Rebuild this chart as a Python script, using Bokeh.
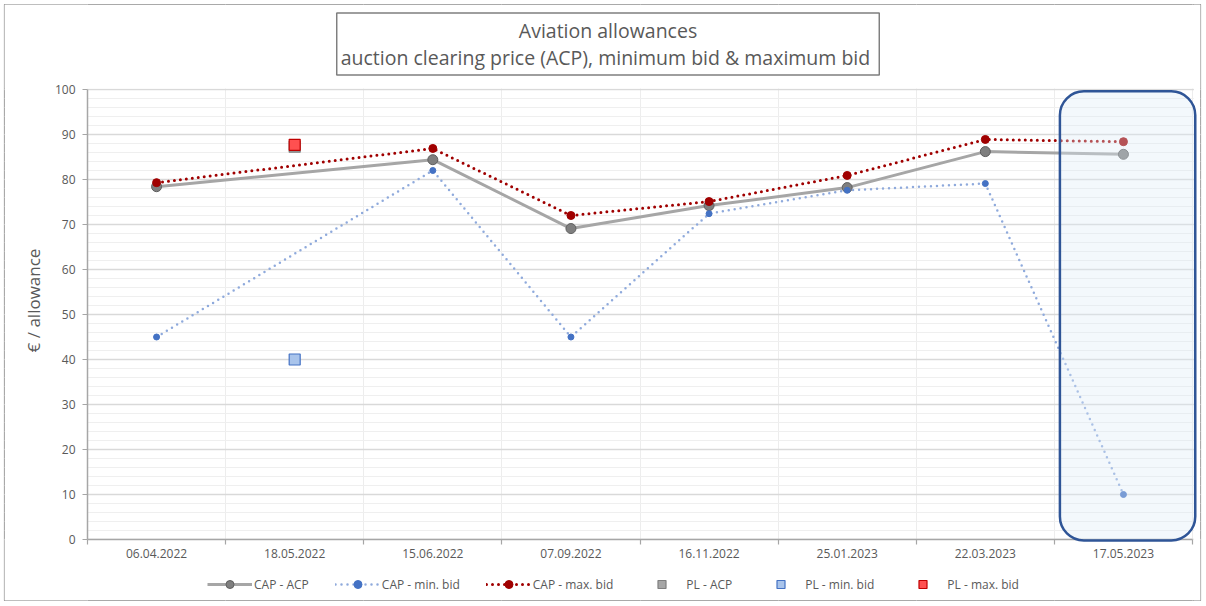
import math
from bokeh.plotting import figure
from bokeh.models import (FixedTicker, BoxAnnotation, Label, Legend, LegendItem)
from bokeh.embed import file_html
from bokeh.resources import INLINE

dates = ["06.04.2022", "18.05.2022", "15.06.2022", "07.09.2022",
         "16.11.2022", "25.01.2023", "22.03.2023", "17.05.2023"]
cap_acp = [78.4, None, 84.4, 69.1, 74.2, 78.2, 86.2, 85.6]
cap_min = [45.0, None, 82.0, 45.0, 72.4, 77.6, 79.1, 10.0]
cap_max = [79.3, None, 86.9, 72.0, 75.1, 80.9, 88.9, 88.4]
pl_acp = [None, 87.3, None, None, None, None, None, None]
pl_min = [None, 40.0, None, None, None, None, None, None]
pl_max = [None, 87.7, None, None, None, None, None, None]

y_ticks = list(range(0, 101, 10))
y_minor = list(range(0, 101, 2))
title_lines = ["Aviation allowances", "auction clearing price (ACP),  minimum bid & maximum bid"]
y_label = "€ / allowance"
FONT = "Open Sans"
TXT = "#595959"

# layout constants (pixels) -> plot area of the reference
W, H, PAD = 1204, 604, 4
PX_L, PX_R, PX_T, PX_B = 87, 1192, 89, 539
n = len(dates)
ppx = (PX_R - PX_L) / n            # px per category
ppy = (PX_B - PX_T) / 100.0        # px per unit
x0 = -0.5 - (PX_L - PAD) / ppx
x1 = n - 0.5 + ((W - PAD) - PX_R) / ppx
y1 = (PX_B - PAD) / ppy
y0 = -((H - PAD) - PX_B) / ppy


def pts(series):
    xs = [i for i, v in enumerate(series) if v is not None]
    ys = [v for v in series if v is not None]
    return xs, ys


p = figure(width=W, height=H, x_range=(x0, x1), y_range=(y0, y1),
           output_backend="svg", toolbar_location=None,
           min_border_left=PAD, min_border_right=PAD, min_border_top=PAD, min_border_bottom=PAD)
p.outline_line_color = "#8C8C8C"
p.outline_line_width = 1.2

# axes fixed at the data origin (so legend/title live inside the frame)
p.xaxis.fixed_location = 0
p.xaxis.bounds = (-0.5, n - 0.5)
p.xaxis.ticker = FixedTicker(ticks=list(range(n)),
                             minor_ticks=[k - 0.5 for k in range(n + 1)])
p.xaxis.major_label_overrides = {i: d for i, d in enumerate(dates)}
p.xaxis.major_tick_line_color = None
p.xaxis.major_tick_out = 0
p.xaxis.major_tick_in = 0
p.xaxis.minor_tick_out = 5
p.xaxis.minor_tick_in = 0
p.xaxis.minor_tick_line_color = "#A6A6A6"
p.xaxis.minor_tick_line_width = 1.2
p.xaxis.major_label_standoff = 4

p.yaxis.fixed_location = -0.5
p.yaxis.bounds = (0, 100)
p.yaxis.ticker = FixedTicker(ticks=y_ticks)
p.yaxis.minor_tick_line_color = None
p.yaxis.major_tick_out = 5
p.yaxis.major_tick_in = 0
p.yaxis.major_tick_line_color = "#A6A6A6"
p.yaxis.major_tick_line_width = 1.2
p.yaxis.major_label_standoff = 7

for ax in (p.xaxis, p.yaxis):
    ax.axis_line_color = "#A6A6A6"
    ax.axis_line_width = 1.5
    ax.major_label_text_font = FONT
    ax.major_label_text_font_size = "12px"
    ax.major_label_text_color = TXT

p.xgrid.ticker = FixedTicker(ticks=[k - 0.5 for k in range(n + 1)])
p.xgrid.grid_line_color = "#EDEDED"
p.ygrid.ticker = FixedTicker(ticks=y_ticks, minor_ticks=y_minor)
p.ygrid.bounds = (0, 100)
p.ygrid.grid_line_color = "#D9D9D9"
p.ygrid.grid_line_width = 1.5
p.ygrid.minor_grid_line_color = "#EFEFEF"

# white masks: keep the grid inside the plot area
for kw in (dict(right=-0.5), dict(left=n - 0.5 + 0.01), dict(bottom=100.2), dict(top=0)):
    p.add_layout(BoxAnnotation(level="underlay", fill_color="white", fill_alpha=1.0,
                               line_color=None, **kw))

# y axis title
p.add_layout(Label(x=(33 - PX_L) / ppx - 0.5, y=(PX_B - 300) / ppy, text=y_label,
                   angle=math.pi / 2, text_align="center", text_baseline="middle",
                   text_font=FONT, text_font_size="17px", text_color=TXT))

# series
x, y = pts(cap_acp)
l1 = p.line(x, y, line_color="#A6A6A6", line_width=3)
m1 = p.scatter(x, y, size=10, fill_color="#7F7F7F", line_color="#5F5F5F", line_width=1)

x, y = pts(cap_min)
l2 = p.line(x, y, line_color="#8FAADC", line_width=2.5, line_dash="0 6", line_cap="round")
m2 = p.scatter(x, y, size=6, fill_color="#4472C4", line_color="#4472C4")

x, y = pts(cap_max)
l3 = p.line(x, y, line_color="#A00000", line_width=3, line_dash="0 6", line_cap="round")
m3 = p.scatter(x, y, size=8, fill_color="#A00000", line_color="#A00000")

x, y = pts(pl_acp)
m4 = p.scatter(x, y, marker="square", size=11, fill_color="#A6A6A6", line_color="#7F7F7F", line_width=1.2)
x, y = pts(pl_min)
m5 = p.scatter(x, y, marker="square", size=11, fill_color="#A9C4EB", line_color="#4472C4", line_width=1.2)
x, y = pts(pl_max)
m6 = p.scatter(x, y, marker="square", size=11, fill_color="#FF5050", line_color="#C00000", line_width=1.2)

# highlight box over last auction
hl = BoxAnnotation(left=n - 1.46, right=n - 0.48, top=99.6, bottom=-0.2, border_radius=24,
                   line_color="#2F5597", line_alpha=1.0, line_width=2.5,
                   fill_color="#DEEBF7", fill_alpha=0.35)
p.add_layout(hl)

# title box
title = Label(x=(607.5 - PX_L) / ppx - 0.5, y=(PX_B - 43.5) / ppy,
              text="\n".join(title_lines), text_align="center", text_baseline="middle",
              text_font=FONT, text_font_size="19.5px", text_color=TXT, text_line_height=1.0,
              border_line_color="#7F7F7F", border_line_width=1.5,
              background_fill_color="white", padding=4)
p.add_layout(title)

legend = Legend(items=[
    LegendItem(label="CAP - ACP", renderers=[l1, m1]),
    LegendItem(label="CAP - min. bid", renderers=[l2, m2]),
    LegendItem(label="CAP - max. bid", renderers=[l3, m3]),
    LegendItem(label="PL - ACP", renderers=[m4]),
    LegendItem(label="PL - min. bid", renderers=[m5]),
    LegendItem(label="PL - max. bid", renderers=[m6]),
], orientation="horizontal", location=(203, 6), margin=0, padding=0,
    spacing=26, glyph_width=45, glyph_height=20, label_standoff=2,
    label_text_font=FONT, label_text_font_size="12px", label_text_color=TXT,
    border_line_color=None, background_fill_alpha=0)
p.add_layout(legend)

open("out.html", "w").write(file_html(p, INLINE))
